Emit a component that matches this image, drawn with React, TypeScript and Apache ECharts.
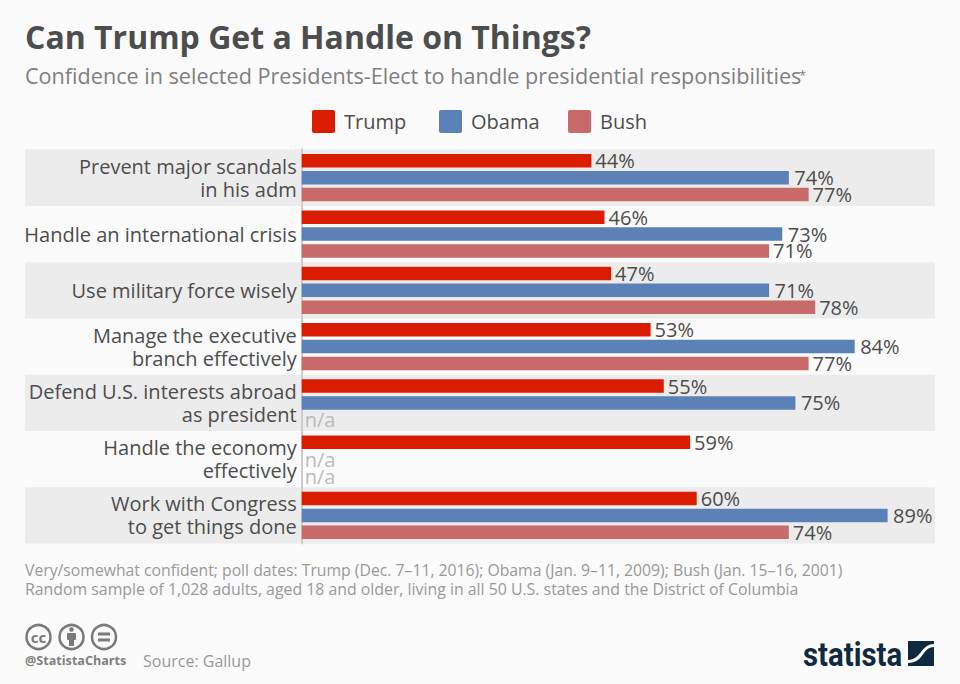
import React, { useEffect, useRef } from "react";
import * as echarts from "echarts";

const categories = [
  "Prevent major scandals\nin his adm",
  "Handle an international crisis",
  "Use military force wisely",
  "Manage the executive\nbranch effectively",
  "Defend U.S. interests abroad\nas president",
  "Handle the economy\neffectively",
  "Work with Congress\nto get things done",
];
const trump: (number | null)[] = [44, 46, 47, 53, 55, 59, 60];
const obama: (number | null)[] = [74, 73, 71, 84, 75, null, 89];
const bush: (number | null)[] = [77, 71, 78, 77, null, null, 74];

const titleText = "Can Trump Get a Handle on Things?";
const subtitleText = "Confidence in selected Presidents-Elect to handle presidential responsibilities";
const noteLines = [
  "Very/somewhat confident; poll dates: Trump (Dec. 7–11, 2016); Obama (Jan. 9–11, 2009); Bush (Jan. 15–16, 2001)",
  "Random sample of 1,028 adults, aged 18 and older, living in all 50 U.S. states and the District of Columbia",
];

const FONT = "'Open Sans'";
const DARK = "#4d4d4d";
const MID = "#808080";
const LIGHT = "#999999";
const ICON = "#7a7a7a";

echarts.graphic.registerShape(
  "statistaMark",
  echarts.graphic.extendPath(
    "M0 0L26 0L26 3C13 3 13 19 0 19ZM26 6L26 25L0 25L0 22C16 22 14 6 26 6Z",
    {} as any
  ) as any
);

function toBars(values: (number | null)[]) {
  return values.map((v) =>
    v === null
      ? { value: 0, label: { formatter: "n/a", color: "#bbbbbb", distance: 3 } }
      : { value: v }
  );
}

function bar(name: string, values: (number | null)[], color: string, distance: number) {
  return {
    name,
    type: "bar",
    data: toBars(values),
    barWidth: 13.5,
    barGap: "25%",
    itemStyle: { color },
    label: {
      show: true,
      position: "right",
      distance,
      formatter: "{c}%",
      fontFamily: FONT,
      fontSize: 20,
      color: DARK,
    },
  };
}

function legend(name: string, left: number) {
  return {
    data: [name],
    left,
    top: 110,
    padding: 0,
    itemWidth: 23,
    itemHeight: 23,
    icon: "path://M2 0H21A2 2 0 0 1 23 2V21A2 2 0 0 1 21 23H2A2 2 0 0 1 0 21V2A2 2 0 0 1 2 0Z",
    textStyle: { fontFamily: FONT, fontSize: 20, color: DARK, padding: [0, 0, 0, 4] },
  };
}

function ccCircle(cx: number) {
  return {
    type: "circle",
    shape: { cx, cy: 637, r: 12 },
    style: { fill: "none", stroke: ICON, lineWidth: 2.5 },
  };
}

export default function App() {
  const ref = useRef<HTMLDivElement>(null);
  useEffect(() => {
    document.body.style.margin = "0";
    const chart = echarts.init(ref.current!, null, { renderer: "svg" });
    chart.setOption({
      animation: false,
      backgroundColor: "#fbfbfb",
      title: [
        {
          text: titleText,
          left: 25,
          top: 20,
          padding: 0,
          textStyle: { fontFamily: FONT, fontSize: 32, fontWeight: "bold", color: DARK },
        },
        {
          text: subtitleText,
          left: 25,
          top: 64,
          padding: 0,
          textStyle: { fontFamily: FONT, fontSize: 21.6, fontWeight: "normal", color: MID },
        },
      ],
      legend: [legend("Trump", 312), legend("Obama", 439), legend("Bush", 568)],
      grid: [
        { left: 301.7, right: 25, top: 149.6, height: 394, outerBoundsMode: "none" },
        { left: 25, right: 25, top: 149.6, height: 394, outerBoundsMode: "none" },
      ],
      xAxis: [
        { type: "value", gridIndex: 0, min: 0, max: 96.2, show: false },
        { type: "value", gridIndex: 1, min: 0, max: 100, show: false },
      ],
      yAxis: [
        {
          type: "category",
          gridIndex: 0,
          inverse: true,
          data: categories,
          axisLine: { show: true, lineStyle: { color: "#cccccc", width: 2 } },
          axisTick: { show: false },
          axisLabel: {
            margin: 5,
            fontFamily: FONT,
            fontSize: 20,
            lineHeight: 23,
            color: DARK,
            align: "right",
          },
          splitLine: { show: false },
        },
        {
          type: "category",
          gridIndex: 1,
          inverse: true,
          data: categories,
          axisLine: { show: false },
          axisTick: { show: false },
          axisLabel: { show: false },
          splitLine: { show: false },
          splitArea: { show: true, areaStyle: { color: ["#ececec", "rgba(0,0,0,0)"] } },
        },
      ],
      series: [
        bar("Trump", trump, "#da1d00", 4),
        bar("Obama", obama, "#5b81b6", 5.5),
        bar("Bush", bush, "#c96a6a", 4),
      ],
      graphic: [
        {
          type: "text",
          x: 799,
          y: 68,
          style: { text: "*", fontFamily: FONT, fontSize: 13, fill: MID },
        },
        {
          type: "text",
          x: 25,
          y: 562,
          style: { text: noteLines[0], fontFamily: FONT, fontSize: 15.76, fill: LIGHT },
        },
        {
          type: "text",
          x: 25,
          y: 581,
          style: { text: noteLines[1], fontFamily: FONT, fontSize: 15.85, fill: LIGHT },
        },
        ccCircle(38.5),
        ccCircle(71.5),
        ccCircle(104),
        {
          type: "text",
          x: 38.5,
          y: 637,
          style: {
            text: "cc",
            fontFamily: FONT,
            fontWeight: "bold",
            fontSize: 15,
            fill: ICON,
            align: "center",
            verticalAlign: "middle",
          },
        },
        { type: "circle", shape: { cx: 71.5, cy: 629.5, r: 2.3 }, style: { fill: ICON } },
        { type: "rect", shape: { x: 67, y: 633, width: 9, height: 7, r: 1 }, style: { fill: ICON } },
        { type: "rect", shape: { x: 69, y: 639, width: 5, height: 7 }, style: { fill: ICON } },
        { type: "rect", shape: { x: 98, y: 632.5, width: 12, height: 3 }, style: { fill: ICON } },
        { type: "rect", shape: { x: 98, y: 638.5, width: 12, height: 3 }, style: { fill: ICON } },
        {
          type: "text",
          x: 25,
          y: 654,
          style: { text: "@StatistaCharts", fontFamily: FONT, fontWeight: "bold", fontSize: 12.6, fill: MID },
        },
        {
          type: "text",
          x: 143,
          y: 653,
          style: { text: "Source: Gallup", fontFamily: FONT, fontSize: 16, fill: LIGHT },
        },
        {
          type: "text",
          x: 803,
          y: 638,
          scaleX: 0.89,
          style: {
            text: "statista",
            fontFamily: "Roboto",
            fontWeight: "bold",
            fontSize: 33,
            fill: "#0f2a40",
          },
        },
        { type: "statistaMark", x: 908, y: 641, style: { fill: "#0f2a40" } },
      ],
    });
    return () => chart.dispose();
  }, []);
  return <div ref={ref} style={{ width: 960, height: 684 }} />;
}
